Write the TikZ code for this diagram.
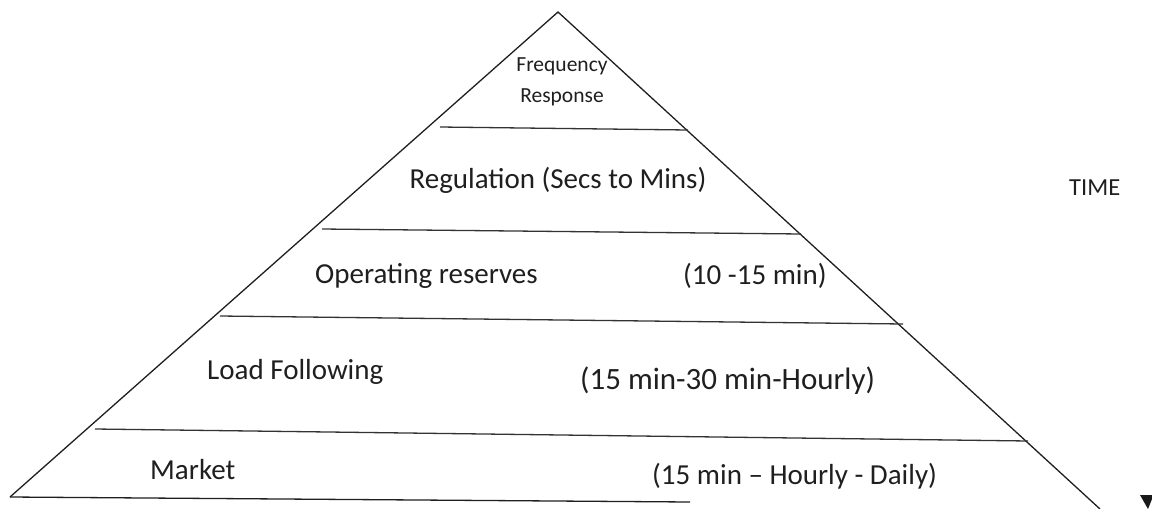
\documentclass[tikz,border=0pt]{standalone}
\usepackage{fontspec}
\setmainfont{Carlito}
\begin{document}
\begin{tikzpicture}[x=1pt,y=-1pt,
  edge/.style={draw=black!88,line width=1.3pt},
  tier/.style={draw=black!80,line width=1.3pt},
  lbl/.style={inner sep=0pt,text=black!88,font=\fontsize{29}{33}\selectfont},
  small/.style={inner sep=0pt,text=black!88,font=\fontsize{21.5}{31}\selectfont,align=center}]
\useasboundingbox (0,0) rectangle (1152,509);
% pyramid corners
\coordinate (apex) at (558,12);
\coordinate (bl) at (10,497);
\coordinate (br) at (1100,509);
\coordinate (bend) at (690,502);
% tier lines
\coordinate (l1a) at (440,127); \coordinate (l1b) at (688,130);
\coordinate (l2a) at (322,229); \coordinate (l2b) at (801,234);
\coordinate (l3a) at (220,316); \coordinate (l3b) at (903,324);
\coordinate (l4a) at (95,429);  \coordinate (l4b) at (1028,441);
\draw[edge] (bl) -- (apex) -- (br);
\draw[edge] (bl) -- (bend);
\draw[tier] (l1a) -- (l1b);
\draw[tier] (l2a) -- (l2b);
\draw[tier] (l3a) -- (l3b);
\draw[tier] (l4a) -- (l4b);
% labels
\node[small] (freq) at (562,82) {Frequency\\Response};
\node[lbl] (reg) at (558,180) {Regulation (Secs to Mins)};
\node[lbl,anchor=west] (op) at (315,276) {Operating reserves};
\node[lbl,anchor=west] (opt) at (683,276) {(10 -15 min)};
\node[lbl,anchor=west] (lf) at (207,372) {Load Following};
\node[lbl,anchor=west,font=\fontsize{31}{35}\selectfont] (lft) at (580,381) {(15 min-30 min-Hourly)};
\node[lbl,anchor=west] (mk) at (150,470) {Market};
\node[lbl,anchor=west] (mkt) at (652,476) {(15 min – Hourly - Daily)};
\node[lbl,anchor=west,font=\fontsize{24.5}{28}\selectfont] (time) at (1069,188) {TIME};
% clipped arrow tip at the edge
\fill[black!90] (1140,495) -- (1152,495) -- (1152,499) -- (1148,509) -- cycle;
\end{tikzpicture}
\end{document}
